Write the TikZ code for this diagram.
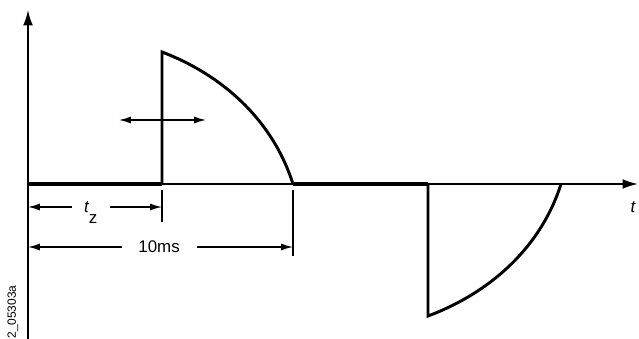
\documentclass[tikz,border=0pt]{standalone}
\usepackage{fontspec}
\setmainfont{Liberation Sans}
\usetikzlibrary{arrows.meta,positioning}

\begin{document}
\begin{tikzpicture}[x=0.025cm,y=-0.025cm,every node/.style={inner sep=1pt}]
  \tikzstyle{axis}=[line width=1.3pt,-{Latex[length=11pt,width=7pt]}]
  \tikzstyle{signal}=[line width=2.1pt,line join=miter]
  \tikzstyle{base}=[line width=2.9pt]
  \tikzstyle{dim}=[line width=1pt,{Latex[length=8.5pt,width=5pt]}-{Latex[length=8.5pt,width=5pt]}]
  \useasboundingbox (0,0) rectangle (639,339);
  \fill[white] (0,0) rectangle (639,339);

  \coordinate (O) at (28,184);
  \coordinate (ytop) at (28,10);
  \coordinate (ybot) at (28,339);
  \coordinate (xend) at (638,184);
  \coordinate (fire1) at (162,184);
  \coordinate (peak1) at (162,52);
  \coordinate (zero1) at (293,184);
  \coordinate (fire2) at (428,184);
  \coordinate (peak2) at (428,316);
  \coordinate (zero2) at (561,184);

  % axes
  \draw[axis] (ybot) -- (ytop);
  \draw[axis] (O) -- (xend);
  \node[font=\large] (t) at (633,207) {\itshape t};

  % signal
  \draw[base] (O) -- (fire1);
  \draw[base] (zero1) -- (fire2);
  \draw[signal] (fire1) -- (peak1) .. controls (220,74) and (272,118) .. (zero1);
  \draw[signal] (fire2) -- (peak2) .. controls (487,294) and (540,250) .. (zero2);

  % shift of firing point
  \coordinate (shL) at (119,120);
  \coordinate (shR) at (206,120);
  \draw[dim] (shL) -- (shR);

  % dimensions
  \coordinate (tick1a) at (162,190);
  \coordinate (tick1b) at (162,222);
  \coordinate (tick2a) at (293,190);
  \coordinate (tick2b) at (293,256);
  \draw[line width=1pt] (tick1a) -- (tick1b);
  \draw[line width=1pt] (tick2a) -- (tick2b);

  \coordinate (tzL) at (28,207);
  \coordinate (tzR) at (162,207);
  \draw[dim] (tzL) -- node[fill=white,inner xsep=9pt,xshift=-3pt,yshift=-4pt,font=\large] (tz) {\itshape t\upshape\raisebox{-1.3ex}{z}} (tzR);

  \coordinate (msL) at (28,247);
  \coordinate (msR) at (293,247);
  \draw[dim] (msL) -- node[fill=white,inner xsep=12pt,xshift=-1pt,font=\large] (ms) {10ms} (msR);

  \node[rotate=90,font=\fontsize{8.5}{9}\selectfont] (code) at (13,312) {2\_05303a};
\end{tikzpicture}
\end{document}
